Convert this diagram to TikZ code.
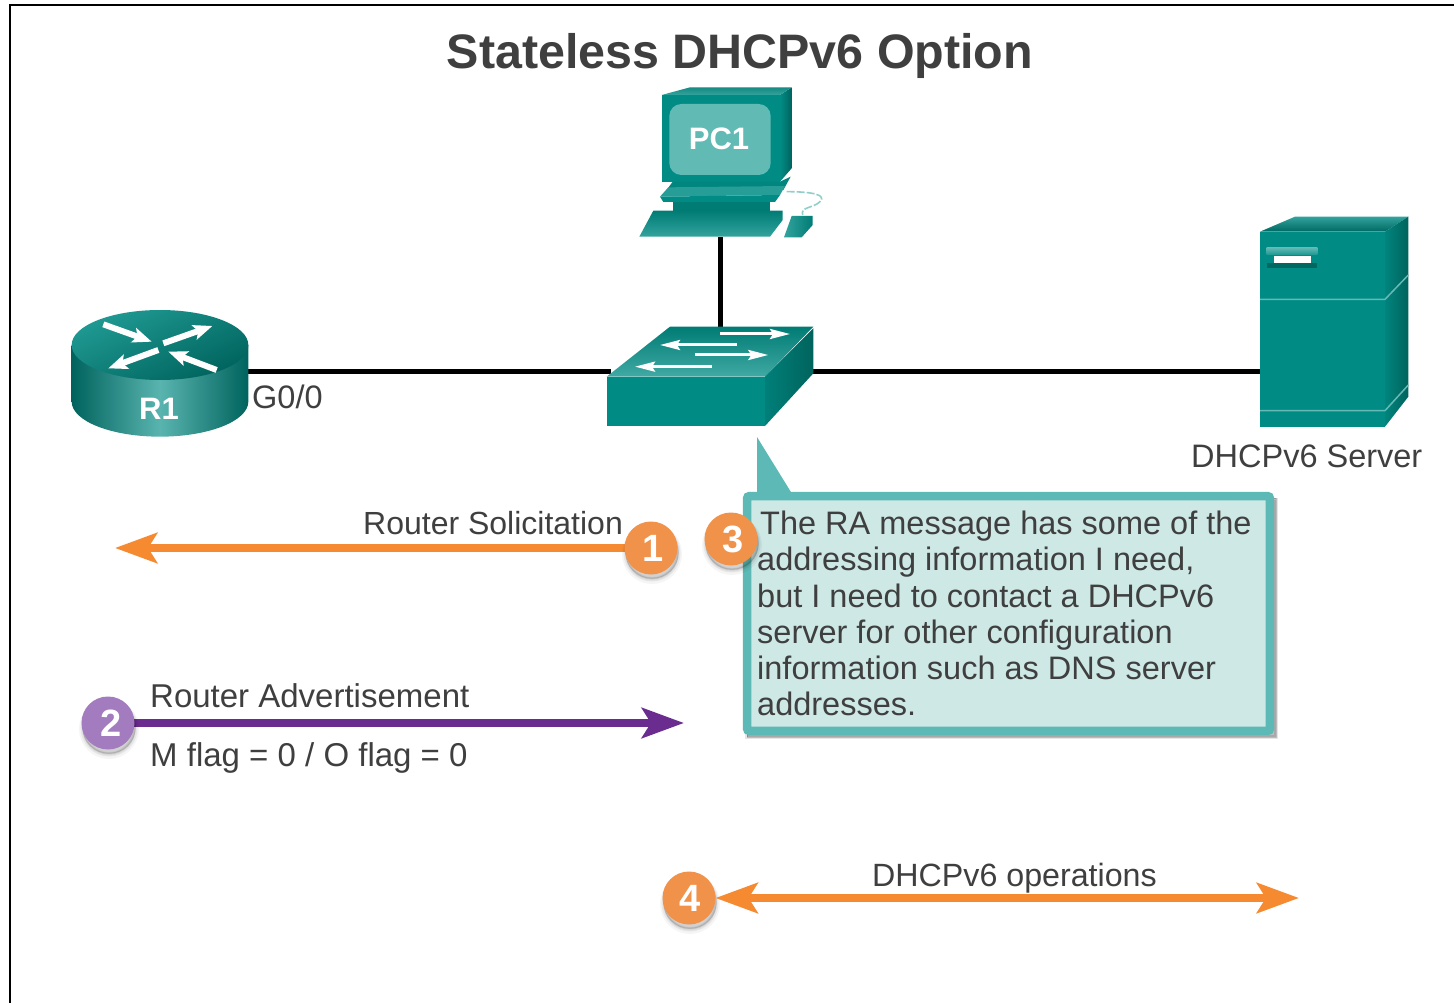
\documentclass[tikz,border=0pt]{standalone}
\usepackage{fontspec}
\setmainfont{Liberation Sans}
\usetikzlibrary{arrows.meta}
\definecolor{teal1}{HTML}{008C85}
\definecolor{tealtop}{HTML}{1F9A93}
\definecolor{tealdark}{HTML}{00635D}
\definecolor{tealscreen}{HTML}{62BAB5}
\definecolor{txt}{HTML}{3F3F3F}
\definecolor{orangeline}{HTML}{F58A30}
\definecolor{orangebadge}{HTML}{F0924A}
\definecolor{purpleline}{HTML}{6A2C8E}
\definecolor{purplebadge}{HTML}{A27CBE}
\definecolor{calloutfill}{HTML}{CDE8E5}
\definecolor{calloutedge}{HTML}{5DB9B5}
\tikzset{
  devbox/.style={rectangle,inner sep=0pt,outer sep=0pt,minimum width=#1},
  lbl/.style={anchor=base west,inner sep=0pt,text=txt,font=\fontsize{#1}{36}\selectfont},
  lbl/.default=32.5,
  devlabel/.style={inner sep=0pt,text=white,font=\fontsize{31}{36}\selectfont\bfseries},
  link/.style={draw=black,line width=5pt},
  softshadow/.style={
    preaction={draw=black,fill=black,draw opacity=.04,fill opacity=.04,line width=7pt,transform canvas={shift={(1pt,-6pt)}}},
    preaction={draw=black,fill=black,draw opacity=.06,fill opacity=.06,line width=4pt,transform canvas={shift={(1pt,-5pt)}}},
    preaction={draw=black,fill=black,draw opacity=.09,fill opacity=.09,line width=1pt,transform canvas={shift={(1pt,-4pt)}}}},
  badge/.style={circle,minimum size=53pt,inner sep=0pt,outer sep=0pt,softshadow,text=white,font=\fontsize{38}{40}\selectfont\bfseries},
  flowtip/.style={line width=8pt,-{Stealth[length=42pt,width=30pt,inset=9pt]}},
  flowboth/.style={line width=8pt,{Stealth[length=42pt,width=30pt,inset=9pt]}-{Stealth[length=42pt,width=30pt,inset=9pt]}},
  zoomr/.style={shift={(#1)},x=0.33333pt,y=-0.33333pt},
  whitearrow/.style={draw=white,line width=6pt,-{Stealth[length=19pt,width=15pt,inset=4pt]}},
}
\begin{document}
\begin{tikzpicture}[x=1pt,y=-1pt]
\useasboundingbox (0,0) rectangle (1454,1003);
\fill[white] (0,0) rectangle (1454,1003);
\draw[black,line width=2.5pt] (10,1003) -- (10,5) -- (1454,5);

% invisible device frames
\node[devbox=176pt,minimum height=132pt] (r1) at (160,371) {};
\node[devbox=200pt,minimum height=88pt] (sw) at (711,371) {};
\node[devbox=162pt,minimum height=150pt] (pc) at (720,162) {};
\node[devbox=149pt,minimum height=208pt] (srv) at (1334.5,321) {};

% connectors
\draw[link] (r1.east) -- (sw.west);
\draw[link] (sw.east) -- (sw.east -| srv.west);
\draw[link] (pc.south) -- (pc.south |- sw.north);

% title
\node[inner sep=0pt,anchor=base,text=txt,font=\fontsize{48.4}{52}\selectfont\bfseries] (title) at (740,69) {Stateless DHCPv6 Option};

% router
\begin{scope}[zoomr={50,290}]
  \shade[left color=tealdark,right color=tealdark,middle color=teal1!65!white]
    (65,165) -- (65,335) arc[start angle=180,end angle=0,x radius=265,y radius=105]
    -- (595,165) -- cycle;
  \shade[top color=tealtop,bottom color=tealdark,shading angle=25]
    (330,165) ellipse[x radius=265,y radius=105];
  \draw[whitearrow] (160,103) -- (305,155);
  \draw[whitearrow] (340,160) -- (487,108);
  \draw[whitearrow] (325,180) -- (175,235);
  \draw[whitearrow] (500,240) -- (355,185);
\end{scope}
\node[devlabel] (r1label) at (159,409) {R1};
\node[lbl] (g00) at (252,408) {G0/0};

% PC
\begin{scope}[zoomr={600,80}]
  \fill[teal1] (185,45) rectangle (540,305);
  \shade[left color=teal1,right color=tealdark] (540,45) -- (575,22) -- (575,265) -- (540,305) -- cycle;
  \shade[top color=tealtop!70!tealdark,bottom color=teal1!80!white] (185,45) -- (270,22) -- (575,22) -- (540,45) -- cycle;
  \fill[tealscreen,rounded corners=12pt] (208,72) rectangle (512,285);
  \fill[teal1!85!tealdark] (218,305) -- (540,305) -- (572,290) -- (550,330) -- (200,330) -- cycle;
  \fill[teal1!85!white] (205,322) -- (555,318) -- (540,345) -- (180,350) -- cycle;
  \fill[teal1] (180,350) -- (540,345) -- (525,366) -- (190,366) -- cycle;
  \fill[teal1!60!tealdark] (218,366) rectangle (510,392);
  \shade[top color=teal1!60!tealdark,bottom color=teal1!80!white] (160,392) -- (548,392) -- (548,420) -- (510,470) -- (118,470) -- cycle;
  \shade[left color=teal1!80!white,right color=teal1!60!tealdark] (575,408) -- (638,408) -- (638,435) -- (605,472) -- (552,472) -- cycle;
  \draw[tealscreen!70!white,line width=1.6pt,dash pattern=on 8pt off 2pt] (560,335) .. controls (640,335) and (680,345) .. (660,365) .. controls (640,385) and (600,380) .. (608,405);
\end{scope}
\node[devlabel] (pclabel) at (719,139) {PC1};

% switch
\begin{scope}[zoomr={600,80}]
  \shade[top color=teal1!60!tealdark,bottom color=tealtop!85!white] (20,890) -- (210,740) -- (640,740) -- (495,890) -- cycle;
  \fill[teal1] (20,890) rectangle (495,1038);
  \shade[left color=teal1!70!tealdark,right color=tealdark] (495,890) -- (640,745) -- (640,880) -- (495,1038) -- cycle;
  \foreach \xa/\xb/\yy in {360/570/762,410/180/795,285/505/825,335/105/860}
    \draw[white,line width=3pt,-{Stealth[length=20pt,width=10pt,inset=3pt]}] (\xa,\yy) -- (\xb,\yy);
\end{scope}

% server
\begin{scope}[zoomr={1240,200}]
  \fill[teal1] (60,95) rectangle (435,680);
  \shade[top color=teal1!80!white,bottom color=tealdark!90!teal1] (60,95) -- (165,50) -- (505,50) -- (435,95) -- cycle;
  \shade[left color=teal1!80!tealdark,right color=tealdark] (435,95) -- (505,50) -- (505,590) -- (435,680) -- cycle;
  \draw[teal1!60!white,line width=1.5pt] (60,298) -- (435,298) -- (505,225);
  \draw[teal1!60!white,line width=1.5pt] (60,632) -- (435,632) -- (505,555);
  \shade[top color=teal1!60!white,bottom color=teal1!90!white] (80,142) rectangle (232,165);
  \fill[tealdark!90!teal1] (80,190) rectangle (232,205);
  \fill[teal1] (80,165) rectangle (232,190);
  \fill[white] (102,168) rectangle (212,188);
\end{scope}
\node[lbl] (srvlabel) at (1191,467) {DHCPv6 Server};

% callout
\fill[calloutedge] (757,437) -- (757,497) -- (794,497) -- cycle;
\path[draw=black,fill=black,draw opacity=.10,fill opacity=.10,line width=4pt] (747,500) rectangle (1276,737);
\path[draw=black,fill=black,draw opacity=.18,fill opacity=.18,line width=1pt] (747,498) rectangle (1276,737);
\draw[draw=calloutedge,fill=calloutfill,line width=8.5pt,rounded corners=2pt] (747.2,496.2) rectangle (1269.8,730.8);
\node[anchor=north west,inner sep=0pt,align=left,text=txt,font=\fontsize{32.5}{36.2}\selectfont] (note) at (757,511) {\hspace*{3pt}The RA message has some of the\\addressing information I need,\\but I need to contact a DHCPv6\\server for other configuration\\information such as DNS server\\addresses.};

% flows
\coordinate (e1) at (115,548);
\coordinate (e2) at (684,723);
\coordinate (e4) at (1299,898);
\node[badge,fill=orangebadge] (b3) at (731,539) {\hspace*{4pt}3};
\node[lbl=32] (rs) at (363,534) {Router Solicitation};
\node[lbl=33] (ra) at (150,707) {Router Advertisement};
\node[lbl=33] (mf) at (150,766) {M flag = 0 / O flag = 0};
\node[lbl=32.2] (ops) at (872,886) {DHCPv6 operations};
\path (651,548) node[inner sep=0pt,minimum size=1pt] (b1a) {};
\draw[flowtip,draw=orangeline,fill=orangeline] (b1a.center) -- (e1);
\node[badge,fill=orangebadge] (b1) at (651,548) {\hspace*{4pt}1};
\path (108,723) node[inner sep=0pt,minimum size=1pt] (b2a) {};
\draw[flowtip,draw=purpleline,fill=purpleline] (b2a.center) -- (e2);
\node[badge,fill=purplebadge] (b2) at (108,723) {\hspace*{7pt}2};
\node[badge,fill=orangebadge] (b4) at (689,898) {\hspace*{2pt}4};
\draw[flowboth,draw=orangeline,fill=orangeline] (b4.east) -- (e4);
\end{tikzpicture}
\end{document}
